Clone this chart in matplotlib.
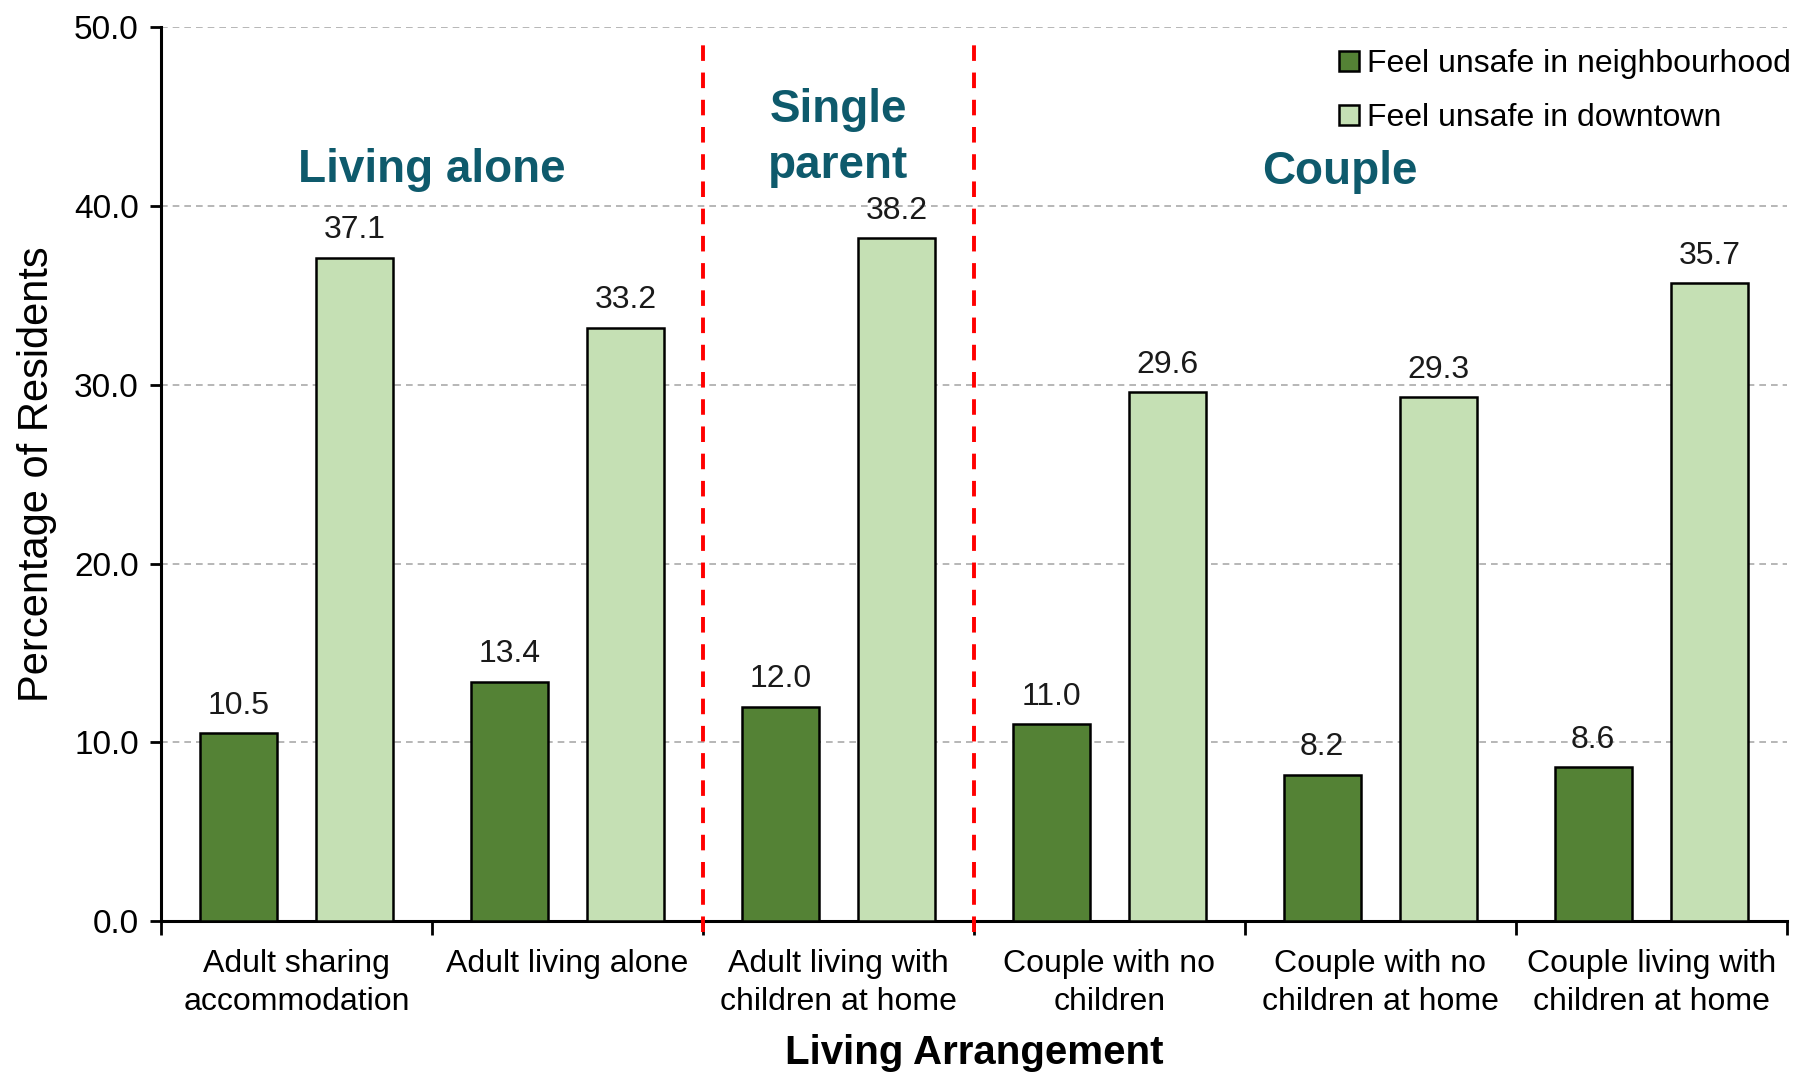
import numpy as np
import matplotlib.pyplot as plt

plt.rcParams['font.family'] = ['Liberation Sans', 'DejaVu Sans']

# data
categories = ['Adult sharing\naccommodation', 'Adult living alone',
              'Adult living with\nchildren at home', 'Couple with no\nchildren',
              'Couple with no\nchildren at home', 'Couple living with\nchildren at home']
neighbourhood = [10.5, 13.4, 12.0, 11.0, 8.2, 8.6]
downtown = [37.1, 33.2, 38.2, 29.6, 29.3, 35.7]
group_names = ['Living alone', 'Single\nparent', 'Couple']
group_x = [0.5, 2.0, 3.85]
group_y = [42.0, 43.8, 41.9]
dividers = [1.5, 2.5]

fig = plt.figure(figsize=(17.99, 10.77), dpi=100)
ax = fig.add_axes([0.0895, 0.1448, 0.9038, 0.8297])

x = np.arange(len(categories))
w = 0.285
b1 = ax.bar(x - 0.215, neighbourhood, w, color='#548235', edgecolor='black',
            linewidth=1.8, label='Feel unsafe in neighbourhood', zorder=3)
b2 = ax.bar(x + 0.215, downtown, w, color='#C5E0B4', edgecolor='black',
            linewidth=1.8, label='Feel unsafe in downtown', zorder=3)

for bars, vals in [(b1, neighbourhood), (b2, downtown)]:
    for r, v in zip(bars, vals):
        ax.text(r.get_x() + r.get_width() / 2, v + 0.7, f'{v:.1f}',
                ha='center', va='bottom', fontsize=23, color='#1a1a1a')

for d in dividers:
    ax.plot([d, d], [-0.6, 49.3], color='red', lw=2.8, ls=(0, (4, 3)),
            clip_on=False, zorder=4)

for name, gx, gy in zip(group_names, group_x, group_y):
    ax.text(gx, gy, name, ha='center', va='center', fontsize=33,
            fontweight='bold', color='#0E5A6C', linespacing=1.35)

ax.set_xlim(-0.5, 5.5)
ax.set_ylim(0, 50)
ax.set_yticks(np.arange(0, 51, 10))
ax.set_yticklabels([f'{t:.1f}' for t in np.arange(0, 51, 10)], fontsize=24)
ax.yaxis.grid(True, color='#aaaaaa', ls=(0, (4, 3)), lw=1.2)
ax.set_axisbelow(True)

ax.set_xticks(np.arange(-0.5, 6, 1))
ax.set_xticklabels([])
ax.set_xticks(x, minor=True)
ax.set_xticklabels(categories, minor=True, fontsize=23, linespacing=1.35)
ax.tick_params(axis='x', which='minor', length=0, pad=20)
ax.tick_params(axis='x', which='major', length=10, width=2)
ax.tick_params(axis='y', length=8, width=2, pad=8)

for s in ['top', 'right']:
    ax.spines[s].set_visible(False)
for s in ['left', 'bottom']:
    ax.spines[s].set_linewidth(2.2)

ax.set_ylabel('Percentage of Residents', fontsize=30, labelpad=12)
ax.set_xlabel('Living Arrangement', fontsize=29, fontweight='bold', labelpad=12)

ax.legend(loc='upper right', bbox_to_anchor=(1.01, 0.99), frameon=False,
          fontsize=23, handlelength=0.6, handleheight=0.6, handletextpad=0.25,
          labelspacing=0.75, borderaxespad=0)

fig.savefig('out.png', dpi=100)
